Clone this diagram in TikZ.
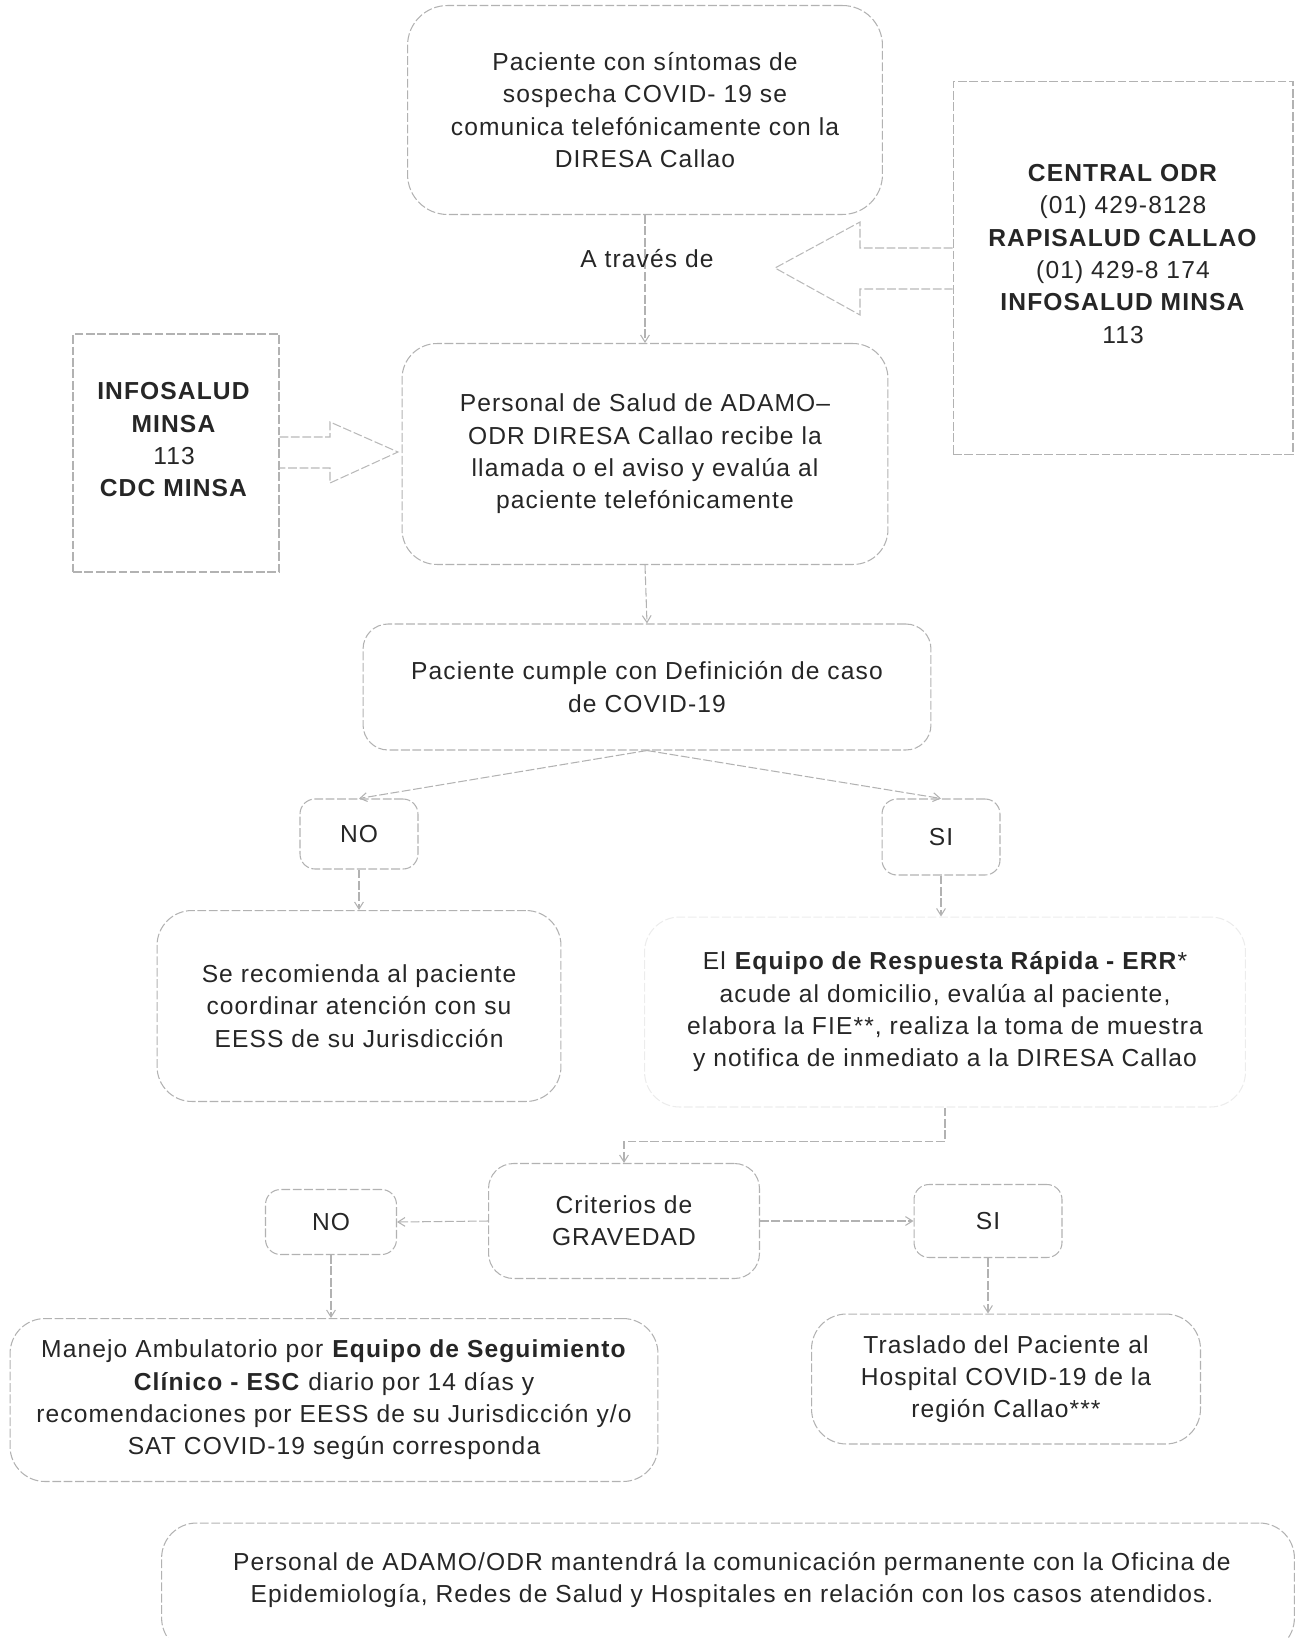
\documentclass[tikz,border=0pt]{standalone}
\usepackage{fontspec}
\setmainfont{Liberation Sans}[LetterSpace=4.5]
\usetikzlibrary{arrows.meta,positioning,calc}

\begin{document}
\begin{tikzpicture}[x=0.02cm,y=-0.02cm,
every node/.style={font=\fontsize{14pt}{18.4pt}\selectfont,text=black!85,align=center},
rbox/.style={draw=gray!60,line width=0.6pt,dash pattern=on 5pt off 1.5pt,rounded corners=0.7cm},
sbox/.style={rbox,rounded corners=0.3cm},
sqbox/.style={draw=gray!60,line width=0.6pt,dash pattern=on 5pt off 1.5pt},
arr/.style={draw=gray!60,line width=0.6pt,dash pattern=on 5pt off 1.5pt,-{Straight Barb[length=4pt,width=5pt]}},
blk/.style={draw=gray!55,line width=0.6pt,dash pattern=on 5pt off 1.5pt,line join=miter}]
\useasboundingbox (0,0) rectangle (1298,1638);
\node[rbox,minimum width=9.5cm,minimum height=4.18cm,rounded corners=0.8cm] (sint) at (645,110) {Paciente con síntomas de\\ sospecha COVID- 19 se\\ comunica telefónicamente con la\\ DIRESA Callao};
\node[sqbox,minimum width=6.8cm,minimum height=7.46cm] (odr) at (1123,268) {};
\node (odrtxt) at (1123,254) {\textbf{CENTRAL ODR}\\ (01) 429-8128\\ \textbf{RAPISALUD CALLAO}\\ (01) 429-8 174\\ \textbf{INFOSALUD MINSA}\\ 113};
\node[sqbox,minimum width=4.12cm,minimum height=4.76cm] (info) at (176,453) {};
\node (infotxt) at (174,440) {\textbf{INFOSALUD}\\ \textbf{MINSA}\\ 113\\ \textbf{CDC MINSA}};
\node[rbox,minimum width=9.72cm,minimum height=4.42cm] (pers) at (645,454) {Personal de Salud de ADAMO–\\ ODR DIRESA Callao recibe la\\ llamada o el aviso y evalúa al\\ paciente telefónicamente};
\node[rbox,minimum width=11.36cm,minimum height=2.52cm,rounded corners=0.5cm] (def) at (647,687) {Paciente cumple con Definición de caso\\ de COVID-19};
\node[sbox,minimum width=2.36cm,minimum height=1.4cm] (no1) at (359,834) {NO};
\node[sbox,minimum width=2.36cm,minimum height=1.52cm] (si1) at (941,837) {SI};
\node[rbox,minimum width=8.08cm,minimum height=3.82cm] (reco) at (359,1006) {Se recomienda al paciente\\ coordinar atención con su\\ EESS de su Jurisdicción};
\node[rbox,draw=gray!15,minimum width=12.02cm,minimum height=3.8cm] (err) at (945,1012) {El \textbf{Equipo de Respuesta Rápida - ERR}*\\ acude al domicilio, evalúa al paciente,\\ elabora la FIE**, realiza la toma de muestra\\ y notifica de inmediato a la DIRESA Callao};
\node[rbox,minimum width=5.42cm,minimum height=2.3cm,rounded corners=0.5cm] (crit) at (624,1221) {Criterios de\\ GRAVEDAD};
\node[sbox,minimum width=2.62cm,minimum height=1.3cm] (no2) at (331,1222) {NO};
\node[sbox,minimum width=2.96cm,minimum height=1.46cm] (si2) at (988,1221) {SI};
\node[rbox,minimum width=12.96cm,minimum height=3.26cm] (manejo) at (334,1400) {Manejo Ambulatorio por \textbf{Equipo de Seguimiento}\\ \textbf{Clínico - ESC} diario por 14 días y\\ recomendaciones por EESS de su Jurisdicción y/o\\ SAT COVID-19 según corresponda};
\node[rbox,minimum width=7.78cm,minimum height=2.6cm] (tras) at (1006,1379) {Traslado del Paciente al\\ Hospital COVID-19 de la\\ región Callao***};
\node[rbox,minimum width=22.66cm,minimum height=2.6cm] (final) at (728,1588) {};
\node (finaltxt) at (732,1580) {Personal de ADAMO/ODR mantendrá la comunicación permanente con la Oficina de\\ Epidemiología, Redes de Salud y Hospitales en relación con los casos atendidos.};
\draw[arr] (sint.south) -- (pers.north);
\node (atraves) at (647,259) {A través de};
\draw[blk] (odr.west |- 0,248) -- (860,248) -- (860,222) -- (775,268) -- (860,315) -- (860,289) -- (odr.west |- 0,289);
\draw[blk] (info.east |- 0,437) -- (330,437) -- (330,422) -- (398,452) -- (330,483) -- (330,468) -- (info.east |- 0,468);
\draw[arr] (pers.south) -- (def.north);
\draw[arr] (def.south) -- (no1.north);
\draw[arr] (def.south) -- (si1.north);
\draw[arr] (no1.south) -- (no1.south |- reco.north);
\draw[arr] (si1.south) -- (si1.south |- err.north);
\draw[arr] (err.south) -- ++(0,34) -| (crit.north);
\draw[arr] (crit.west) -- (no2.east);
\draw[arr] (crit.east) -- (si2.west);
\draw[arr] (no2.south) -- (no2.south |- manejo.north);
\draw[arr] (si2.south) -- (si2.south |- tras.north);
\end{tikzpicture}
\end{document}
